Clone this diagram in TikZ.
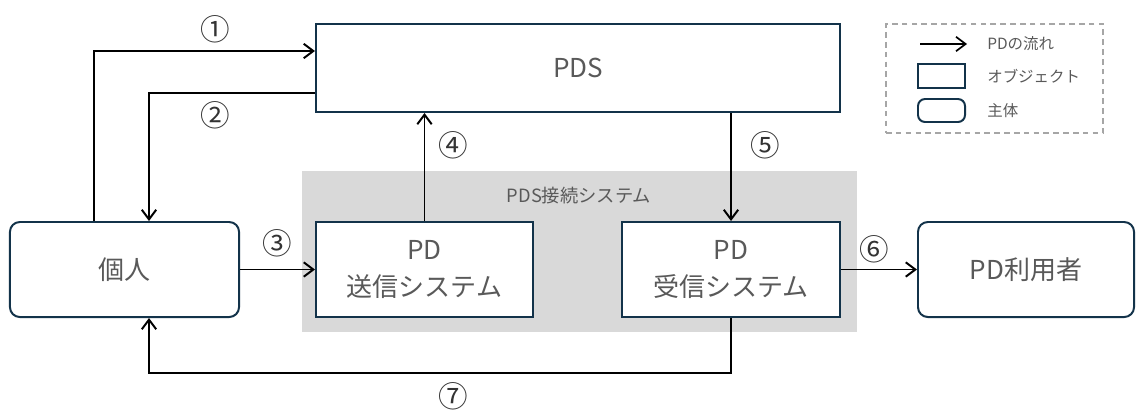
\documentclass[tikz,border=0pt]{standalone}
\usepackage{fontspec}
\setmainfont{Noto Sans CJK JP}
\usepackage{tikz}
\usetikzlibrary{arrows.meta}
\usetikzlibrary{backgrounds}
\usetikzlibrary{positioning}
\definecolor{boxline}{HTML}{13334A}
\definecolor{txtgray}{HTML}{595959}
\definecolor{sysgray}{HTML}{D9D9D9}
\definecolor{dashgray}{HTML}{A6A6A6}
\tikzset{obj/.style={rectangle,draw=boxline,line width=1.4pt,fill=white,text=txtgray,align=center,font=\fontsize{18.5}{27}\selectfont,inner sep=0pt}}
\tikzset{actor/.style={obj,rounded corners=7pt}}
\tikzset{flow/.style={line width=1.4pt,-{Straight Barb[length=2.4mm,width=3.6mm]}}}
\tikzset{num/.style={text=black!80,font=\fontsize{21}{21}\selectfont,inner sep=0pt}}
\tikzset{lgtext/.style={text=txtgray,font=\fontsize{11}{12}\selectfont,inner sep=0pt,anchor=west}}

\begin{document}
\begin{tikzpicture}[x=0.025cm,y=-0.025cm]
\useasboundingbox (0,0) rectangle (1136,409);

\node[obj, minimum width=13.1cm, minimum height=2.2cm] (pds) at (578,68) {PDS};
\node[actor, minimum width=5.725cm, minimum height=2.375cm] (indiv) at (124.5,269.5) {個人};
\node[obj, minimum width=5.425cm, minimum height=2.375cm] (send) at (424.5,269.5) {PD\\送信システム};
\node[obj, minimum width=5.45cm, minimum height=2.375cm] (recv) at (731,269.5) {PD\\受信システム};
\node[actor, minimum width=5.4cm, minimum height=2.375cm] (user) at (1026,269.5) {PD利用者};

\begin{pgfonlayer}{background}
\node[fill=sysgray, minimum width=13.875cm, minimum height=4.025cm, inner sep=0pt] (pdssys) at (579.5,251.5) {};
\node[text=txtgray, font=\fontsize{13}{13}\selectfont, inner sep=0pt] (syslabel) at (579,196) {PDS接続システム};
\end{pgfonlayer}

\coordinate (c1) at (94,51);
\coordinate (c2) at (149,93);
\coordinate (c7) at (731,373);
\draw[flow] (indiv.north -| c1) |- (pds.west |- c1);
\draw[flow] (pds.west |- c2) -| (indiv.north -| c2);
\draw[flow] (indiv) -- (send);
\draw[flow] (send.north) -- (send.north |- pds.south);
\draw[flow] (recv.north |- pds.south) -- (recv.north);
\draw[flow] (recv) -- (user);
\draw[flow] (recv.south) -- (c7) -| (indiv.south -| c2);

\node[num] (n1) at (215,29) {①};
\node[num] (n2) at (215,115) {②};
\node[num] (n3) at (277,243) {③};
\node[num] (n4) at (453,145) {④};
\node[num] (n5) at (765,145) {⑤};
\node[num] (n6) at (874,249) {⑥};
\node[num] (n7) at (453,396) {⑦};

\node[draw=dashgray, dash pattern=on 4pt off 3pt, line width=0.8pt, minimum width=5.425cm, minimum height=2.725cm] (legend) at (994.5,78.5) {};
\coordinate (la0) at (920,44);
\coordinate (la1) at (967,44);
\draw[flow, line width=1.2pt] (la0) -- (la1);
\node[draw=boxline, line width=1.4pt, minimum width=1.175cm, minimum height=0.6cm] (lobj) at (941.5,76) {};
\node[draw=boxline, line width=1.4pt, rounded corners=5pt, minimum width=1.175cm, minimum height=0.575cm] (lact) at (941.5,110.5) {};
\node[lgtext] (lflow) at (987,44) {PDの流れ};
\node[lgtext] (lobjtext) at (987,76) {オブジェクト};
\node[lgtext] (lacttext) at (987,110.5) {主体};

\end{tikzpicture}
\end{document}
